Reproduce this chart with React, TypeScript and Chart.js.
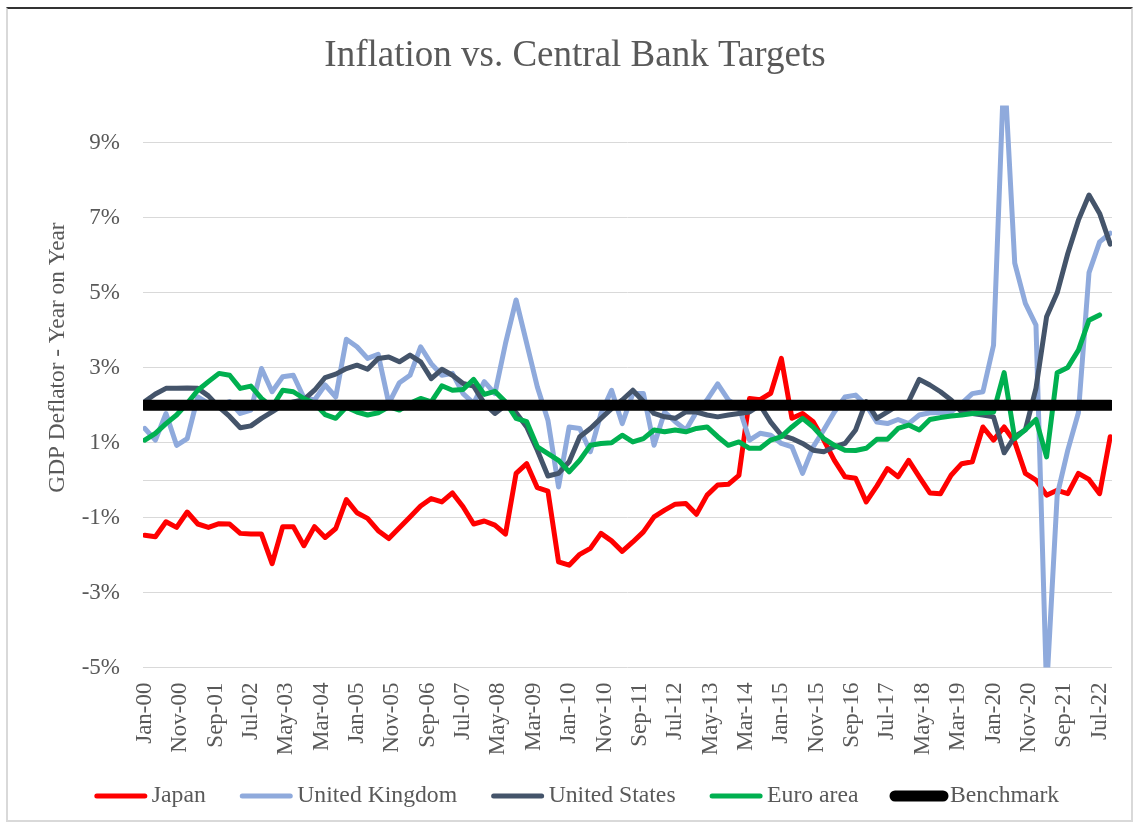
import React, { useEffect, useRef } from 'react';
import { Chart, registerables } from 'chart.js';

Chart.register(...registerables);

const FONT = "'Liberation Serif', 'Times New Roman', serif";
const TEXT_COLOR = '#595959';

const TITLE = 'Inflation vs. Central Bank Targets';
const Y_TITLE = 'GDP Deflator - Year on Year';

// Quarterly observations, Jan-00 .. Oct-22, x = months since Jan-00
const QUARTER_MONTHS = Array.from({ length: 92 }, (_, i) => i * 3);

const TICK_LABELS = [
  'Jan-00', 'Nov-00', 'Sep-01', 'Jul-02', 'May-03', 'Mar-04', 'Jan-05', 'Nov-05',
  'Sep-06', 'Jul-07', 'May-08', 'Mar-09', 'Jan-10', 'Nov-10', 'Sep-11', 'Jul-12',
  'May-13', 'Mar-14', 'Jan-15', 'Nov-15', 'Sep-16', 'Jul-17', 'May-18', 'Mar-19',
  'Jan-20', 'Nov-20', 'Sep-21', 'Jul-22',
];
const TICK_STEP_MONTHS = 10;
const Y_TICKS = [-5, -3, -1, 0, 1, 3, 5, 7, 9];

const JAPAN = [
  -1.47, -1.51, -1.11, -1.26, -0.85, -1.17, -1.26, -1.16, -1.17, -1.42,
  -1.44, -1.44, -2.23, -1.24, -1.24, -1.75, -1.24, -1.53, -1.29, -0.52,
  -0.87, -1.02, -1.35, -1.56, -1.27, -0.98, -0.69, -0.49, -0.58, -0.34,
  -0.71, -1.17, -1.09, -1.20, -1.44, 0.18, 0.44, -0.20, -0.29, -2.18,
  -2.27, -1.98, -1.82, -1.42, -1.62, -1.90, -1.65, -1.38, -0.98, -0.80,
  -0.64, -0.62, -0.91, -0.40, -0.13, -0.11, 0.13, 2.18, 2.15, 2.32,
  3.25, 1.65, 1.78, 1.56, 1.07, 0.53, 0.09, 0.05, -0.58, -0.16,
  0.31, 0.09, 0.53, 0.09, -0.34, -0.36, 0.13, 0.44, 0.49, 1.42,
  1.07, 1.42, 1.02, 0.18, 0.0, -0.40, -0.27, -0.36, 0.18, 0.02,
  -0.36, 1.16,
];

const UNITED_KINGDOM = [
  1.38, 1.07, 1.78, 0.93, 1.11, 2.22, 2.05, 2.0, 2.1, 1.78,
  1.87, 2.98, 2.36, 2.76, 2.80, 2.2, 2.14, 2.54, 2.22, 3.76,
  3.56, 3.25, 3.36, 2.05, 2.6, 2.80, 3.56, 3.11, 2.80, 2.85,
  2.31, 2.05, 2.63, 2.31, 3.65, 4.81, 3.65, 2.49, 1.60, -0.18,
  1.42, 1.38, 0.76, 1.78, 2.40, 1.51, 2.31, 2.31, 0.93, 1.82,
  1.56, 1.34, 1.82, 2.14, 2.57, 2.14, 1.96, 1.07, 1.25, 1.20,
  0.98, 0.89, 0.18, 0.89, 1.34, 1.82, 2.22, 2.27, 2.0, 1.55,
  1.51, 1.62, 1.51, 1.74, 1.80, 1.80, 1.82, 2.05, 2.31, 2.36,
  3.6, 11.1, 5.79, 4.72, 4.14, -5.6, -0.4, 0.8, 1.8, 5.54,
  6.36, 6.59,
];

const UNITED_STATES = [
  2.1, 2.3, 2.45, 2.45, 2.46, 2.45, 2.25, 1.95, 1.7, 1.4,
  1.45, 1.65, 1.82, 2.0, 2.09, 2.15, 2.4, 2.74, 2.83, 2.98,
  3.07, 2.96, 3.25, 3.29, 3.16, 3.34, 3.16, 2.71, 2.96, 2.80,
  2.58, 2.51, 2.05, 1.78, 2.0, 1.8, 1.42, 0.80, 0.11, 0.18,
  0.49, 1.16, 1.38, 1.65, 1.91, 2.14, 2.40, 2.1, 1.78, 1.69,
  1.65, 1.82, 1.82, 1.74, 1.69, 1.74, 1.78, 1.82, 2.0, 1.55,
  1.20, 1.11, 0.98, 0.80, 0.76, 0.89, 0.98, 1.34, 2.1, 1.65,
  1.82, 2.0, 2.1, 2.69, 2.54, 2.36, 2.14, 1.82, 1.78, 1.74,
  1.69, 0.73, 1.16, 1.34, 2.45, 4.36, 5.0, 6.05, 6.94, 7.61,
  7.12, 6.30,
];

const EURO_AREA = [
  1.07, 1.25, 1.51, 1.74, 2.05, 2.40, 2.63, 2.85, 2.80, 2.45,
  2.51, 2.18, 1.95, 2.40, 2.36, 2.18, 2.05, 1.75, 1.65, 1.95,
  1.82, 1.74, 1.80, 1.96, 1.87, 2.05, 2.18, 2.09, 2.52, 2.40,
  2.42, 2.69, 2.29, 2.37, 2.09, 1.65, 1.56, 0.89, 0.71, 0.53,
  0.22, 0.53, 0.93, 0.98, 1.0, 1.20, 1.02, 1.11, 1.34, 1.29,
  1.34, 1.29, 1.38, 1.42, 1.16, 0.93, 1.02, 0.85, 0.85, 1.07,
  1.16, 1.42, 1.65, 1.42, 1.11, 0.93, 0.80, 0.79, 0.85, 1.09,
  1.09, 1.38, 1.47, 1.34, 1.62, 1.67, 1.71, 1.74, 1.78, 1.80,
  1.82, 2.87, 1.11, 1.35, 1.62, 0.62, 2.87, 3.01, 3.47, 4.27,
  4.41, null,
];

const BENCHMARK = QUARTER_MONTHS.map(() => 2);

const SERIES = [
  { label: 'Japan', values: JAPAN, color: '#FF0000', width: 5 },
  { label: 'United Kingdom', values: UNITED_KINGDOM, color: '#8FAADC', width: 5 },
  { label: 'United States', values: UNITED_STATES, color: '#44546A', width: 5 },
  { label: 'Euro area', values: EURO_AREA, color: '#00B050', width: 5 },
  { label: 'Benchmark', values: BENCHMARK, color: '#000000', width: 11 },
];

const overlayPlugin = {
  id: 'overlay',
  afterDraw(chart: any) {
    const ctx = chart.ctx;
    ctx.save();
    // Title
    ctx.fillStyle = TEXT_COLOR;
    ctx.font = `37px ${FONT}`;
    ctx.textAlign = 'center';
    ctx.textBaseline = 'alphabetic';
    ctx.fillText(TITLE, 567, 56.7);

    // Y axis title
    ctx.save();
    ctx.translate(49.5, 348.5);
    ctx.rotate(-Math.PI / 2);
    ctx.font = `23.3px ${FONT}`;
    ctx.textAlign = 'center';
    ctx.textBaseline = 'middle';
    ctx.fillText(Y_TITLE, 0, 0);
    ctx.restore();

    // Legend
    const LINE_LEN = 48;
    const TEXT_GAP = 7;
    const ITEM_GAP = 36.5;
    ctx.font = `23.7px ${FONT}`;
    const widths = SERIES.map((s) => LINE_LEN + TEXT_GAP + ctx.measureText(s.label).width);
    const total = widths.reduce((a, b) => a + b, 0) + ITEM_GAP * (SERIES.length - 1);
    let x = 570 - total / 2;
    const y = 787;
    SERIES.forEach((s, i) => {
      ctx.beginPath();
      ctx.lineCap = 'round';
      ctx.strokeStyle = s.color;
      ctx.lineWidth = s.width;
      ctx.moveTo(x, y);
      ctx.lineTo(x + LINE_LEN, y);
      ctx.stroke();
      ctx.fillStyle = TEXT_COLOR;
      ctx.textAlign = 'left';
      ctx.textBaseline = 'middle';
      ctx.fillText(s.label, x + LINE_LEN + TEXT_GAP, y);
      x += widths[i] + ITEM_GAP;
    });
    ctx.restore();
  },
};

export default function App() {
  const canvasRef = useRef<HTMLCanvasElement | null>(null);

  useEffect(() => {
    if (!canvasRef.current) return;
    const tickFont = { family: FONT, size: 23 };
    const chart = new Chart(canvasRef.current, {
      type: 'line',
      data: {
        datasets: SERIES.map((s, idx) => ({
          label: s.label,
          data: QUARTER_MONTHS.map((m, i) => ({ x: m, y: s.values[i] })),
          borderColor: s.color,
          backgroundColor: s.color,
          borderWidth: s.width,
          pointRadius: 0,
          tension: 0,
          borderJoinStyle: 'round',
          borderCapStyle: 'round',
          clip: 0,
          order: SERIES.length - idx,
        })),
      },
      options: {
        animation: false,
        responsive: true,
        maintainAspectRatio: false,
        layout: { padding: { left: 0, right: 19, top: 96.5, bottom: 52.5 } },
        plugins: {
          legend: { display: false },
          title: { display: false },
          tooltip: { enabled: false },
        },
        events: [],
        scales: {
          x: {
            type: 'linear',
            min: -0.5,
            max: 273.5,
            afterBuildTicks: (scale: any) => {
              scale.ticks = TICK_LABELS.map((_, i) => ({ value: i * TICK_STEP_MONTHS }));
            },
            afterFit: (scale: any) => {
              scale.height = 100;
              scale.paddingLeft = 0;
              scale.paddingRight = 0;
            },
            grid: { display: false, drawTicks: false },
            border: { display: false },
            ticks: {
              autoSkip: false,
              minRotation: 90,
              maxRotation: 90,
              padding: 15,
              color: TEXT_COLOR,
              font: tickFont,
              callback: (_v: any, i: number) => TICK_LABELS[i],
            },
          },
          y: {
            type: 'linear',
            min: -5,
            max: 10,
            afterBuildTicks: (scale: any) => {
              scale.ticks = Y_TICKS.map((v) => ({ value: v }));
            },
            afterFit: (scale: any) => {
              scale.width = 135;
              scale.paddingTop = 0;
              scale.paddingBottom = 0;
            },
            grid: { color: '#D9D9D9', lineWidth: 1, drawTicks: false },
            border: { display: false },
            ticks: {
              padding: 23,
              color: TEXT_COLOR,
              font: tickFont,
              callback: (v: any) => (v === 0 ? '' : `${v}%`),
            },
          },
        },
      },
      plugins: [overlayPlugin],
    } as any);
    return () => chart.destroy();
  }, []);

  return (
    <div
      style={{
        position: 'absolute',
        left: 6,
        top: 7,
        width: 1127,
        height: 815,
        boxSizing: 'border-box',
        borderLeft: '2px solid #D9D9D9',
        borderRight: '2px solid #D9D9D9',
        borderBottom: '2px solid #D9D9D9',
        borderTop: '2px solid #333333',
        background: '#FFFFFF',
      }}
    >
      <canvas ref={canvasRef} style={{ display: 'block', width: '100%', height: '100%' }} />
    </div>
  );
}
